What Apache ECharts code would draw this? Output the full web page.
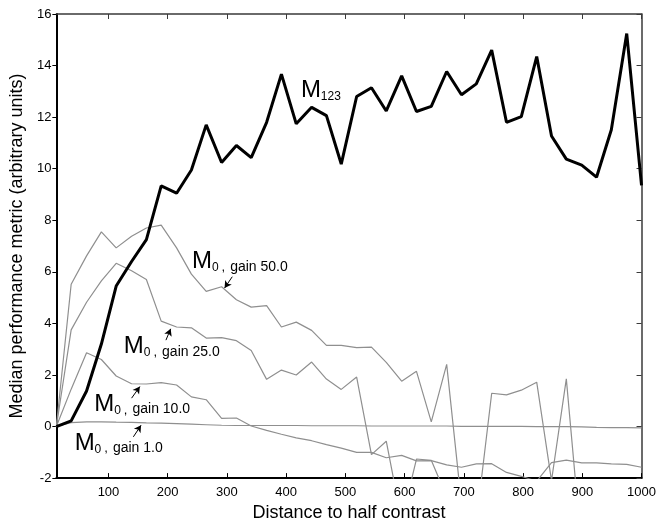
<!DOCTYPE html>
<html>
<head>
<meta charset="utf-8">
<script src="https://cdn.jsdelivr.net/npm/echarts@6/dist/echarts.min.js"></script>
<style>
html,body{margin:0;padding:0;background:#fff;}
#chart{width:659px;height:527px;}
</style>
</head>
<body>
<div id="chart"></div>
<script>
// Distance to half contrast (x values)
var distances = [12, 37, 63, 88, 113, 139, 164, 189, 215, 240, 265, 291, 316, 341, 367, 392, 417, 443, 468, 493,
                 519, 544, 569, 595, 620, 645, 671, 696, 721, 747, 772, 797, 823, 848, 873, 899, 924, 949, 975, 1000];

var m123 = [0.0, 0.22, 1.38, 3.2, 5.45, 6.4, 7.25, 9.33, 9.05, 9.95, 11.7, 10.24, 10.9, 10.43, 11.8, 13.67, 11.74, 12.38, 12.06, 10.18,
            12.8, 13.14, 12.24, 13.6, 12.22, 12.42, 13.77, 12.87, 13.29, 14.6, 11.8, 12.02, 14.35, 11.27, 10.37, 10.14, 9.67, 11.51, 15.24, 9.35];

var gain50 = [0, 5.52, 6.62, 7.55, 6.93, 7.38, 7.7, 7.81, 6.93, 5.91, 5.24, 5.42, 4.92, 4.63, 4.69, 3.86, 4.05, 3.73, 3.15, 3.15,
              3.06, 3.08, 2.49, 1.76, 2.14, 0.18, 2.41, -3.0, -3.7, 1.29, 1.23, 1.41, 1.72, -2.1, 1.85, -4.8, -4.5, -5.1, -4.7, -5.0];

var gain25 = [0, 3.75, 4.82, 5.65, 6.33, 6.04, 5.7, 4.09, 3.86, 3.83, 3.43, 3.45, 3.33, 2.95, 1.83, 2.19, 2.0, 2.5, 1.84, 1.44,
              1.92, -1.09, -0.57, -3.65, -1.26, -1.31, -2.72, -3.1, -2.8, -3.4, -3.0, -3.6, -3.2, -2.9, -3.5, -3.3, -3.8, -3.1, -3.4, -3.6];

var gain10 = [0, 1.45, 2.86, 2.6, 1.96, 1.66, 1.65, 1.7, 1.61, 1.15, 1.04, 0.32, 0.33, 0.02, -0.15, -0.3, -0.44, -0.55, -0.7, -0.84,
              -1.0, -1.0, -1.21, -1.12, -1.33, -1.32, -1.49, -1.58, -1.45, -1.44, -1.78, -1.93, -2.12, -1.4, -1.3, -1.41, -1.41, -1.45, -1.47, -1.58];

var gain1 = [0, 0.15, 0.18, 0.18, 0.17, 0.16, 0.14, 0.13, 0.11, 0.09, 0.07, 0.05, 0.04, 0.04, 0.04, 0.04, 0.04, 0.03, 0.03, 0.03,
             0.03, 0.02, 0.02, 0.02, 0.02, 0.02, 0.02, 0.01, 0.01, 0.01, 0.01, 0.01, 0.0, 0.0, 0.0, -0.01, -0.03, -0.04, -0.04, -0.05];

var xTicks = [100, 200, 300, 400, 500, 600, 700, 800, 900, 1000];

// annotation label anchors [x, y] (left edge, vertical middle) and arrows [[tail],[head]]
var labelM123 = [424, 13.1];
var label50 = [240, 6.47];
var label25 = [125, 3.17];
var label10 = [75, 0.93];
var label1 = [42, -0.57];
var arrow50 = [[309, 5.81], [296, 5.37]];
var arrow25 = [[197, 3.35], [205, 3.79]];
var arrow10 = [[139, 1.1], [153, 1.55]];
var arrow1 = [[142, -0.4], [155, 0.05]];

function pairs(ys) { return distances.map(function (x, i) { return [x, ys[i]]; }); }

var FONT = '"Liberation Sans", Arial, Helvetica, sans-serif';
var rich = {
  m: { fontSize: 24, lineHeight: 28, verticalAlign: 'bottom', color: '#000', fontFamily: FONT },
  s: { fontSize: 12, lineHeight: 8, verticalAlign: 'bottom', color: '#000', fontFamily: FONT },
  c: { fontSize: 13, lineHeight: 17, verticalAlign: 'bottom', color: '#000', fontFamily: FONT, padding: [0, 5, 0, 3] },
  g: { fontSize: 14, lineHeight: 17, verticalAlign: 'bottom', color: '#000', fontFamily: FONT }
};

function labelPoint(coord, text) {
  return {
    symbol: 'rect', symbolSize: 1, silent: true, animation: false,
    itemStyle: { color: 'rgba(0,0,0,0)' },
    label: { show: true, position: 'right', distance: 0, formatter: text, rich: rich },
    data: [{ coord: coord, value: 0 }]
  };
}
function arrowLine(a) {
  return {
    silent: true, animation: false,
    symbol: ['none', 'arrow'], symbolSize: [6, 7],
    label: { show: false },
    lineStyle: { color: '#000', width: 1, type: 'solid' },
    data: [[{ coord: a[0] }, { coord: a[1] }]]
  };
}

var GRAY = '#8f8f8f';
function grayLine(ys, lbl, arrow, text) {
  return {
    type: 'line', data: pairs(ys), showSymbol: false, symbol: 'none', z: 2,
    lineStyle: { color: GRAY, width: 1.2 },
    markPoint: labelPoint(lbl, text),
    markLine: arrowLine(arrow)
  };
}

var chart = echarts.init(document.getElementById('chart'), null, { renderer: 'canvas' });
chart.setOption({
  animation: false,
  backgroundColor: '#fff',
  textStyle: { fontFamily: FONT },
  grid: { left: 52, right: 13, top: 14, bottom: 45 },
  xAxis: [{
    type: 'value', min: 12, max: 1000, position: 'bottom',
    name: 'Distance to half contrast', nameLocation: 'middle', nameGap: 22,
    nameTextStyle: { fontSize: 18, color: '#000', fontFamily: FONT },
    axisLine: { show: true, onZero: false, lineStyle: { color: '#000', width: 2 } },
    axisTick: { show: true, inside: true, length: 5, customValues: xTicks, lineStyle: { color: '#000', width: 1 } },
    axisLabel: { show: true, customValues: xTicks, margin: 8, fontSize: 13, color: '#000', fontFamily: FONT,
                 formatter: function (v) { return String(v); } },
    splitLine: { show: false }
  }, {
    type: 'value', min: 12, max: 1000, position: 'top',
    axisLine: { show: true, onZero: false, lineStyle: { color: '#3a3a3a', width: 1.5 } },
    axisTick: { show: true, inside: true, length: 5, customValues: xTicks, lineStyle: { color: '#3a3a3a', width: 1 } },
    axisLabel: { show: false },
    splitLine: { show: false }
  }],
  yAxis: [{
    type: 'value', min: -2, max: 16, interval: 2, position: 'left',
    name: 'Median performance metric (arbitrary units)', nameLocation: 'middle', nameGap: 24,
    nameTextStyle: { fontSize: 18, color: '#000', fontFamily: FONT },
    axisLine: { show: true, onZero: false, lineStyle: { color: '#000', width: 2 } },
    axisTick: { show: true, inside: false, length: 4, lineStyle: { color: '#000', width: 1 } },
    axisLabel: { show: true, margin: 5, fontSize: 13, color: '#000', fontFamily: FONT },
    splitLine: { show: false }
  }, {
    type: 'value', min: -2, max: 16, interval: 2, position: 'right',
    axisLine: { show: true, onZero: false, lineStyle: { color: '#3a3a3a', width: 1.5 } },
    axisTick: { show: true, inside: true, length: 5, lineStyle: { color: '#3a3a3a', width: 1 } },
    axisLabel: { show: false },
    splitLine: { show: false }
  }],
  series: [
    grayLine(gain1, label1, arrow1, '{m|M}{s|0}{c|,}{g|gain 1.0}'),
    grayLine(gain10, label10, arrow10, '{m|M}{s|0}{c|,}{g|gain 10.0}'),
    grayLine(gain25, label25, arrow25, '{m|M}{s|0}{c|,}{g|gain 25.0}'),
    grayLine(gain50, label50, arrow50, '{m|M}{s|0}{c|,}{g|gain 50.0}'),
    {
      type: 'line', data: pairs(m123), showSymbol: false, symbol: 'none', z: 5,
      lineStyle: { color: '#000', width: 3 },
      markPoint: labelPoint(labelM123, '{m|M}{s|123}')
    }
  ]
});
</script>
</body>
</html>
